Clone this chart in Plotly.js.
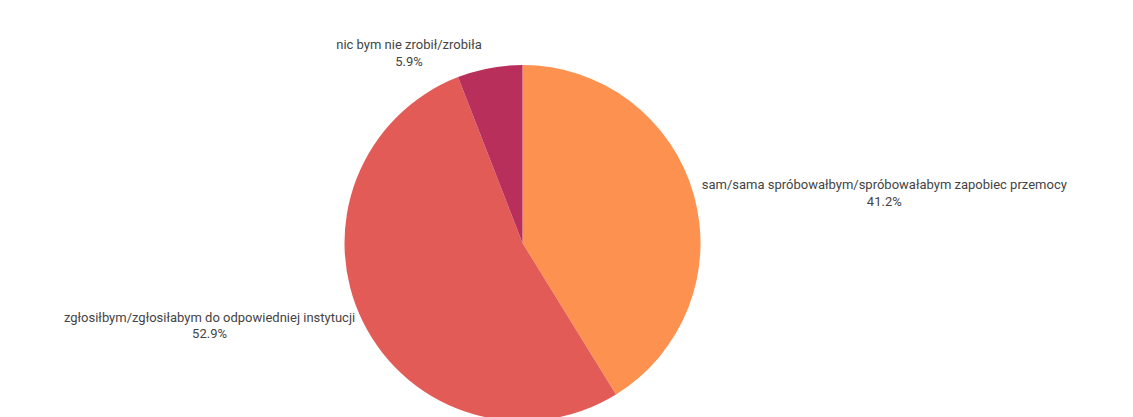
<!DOCTYPE html>
<html>
<head>
<meta charset="utf-8">
<script src="https://cdn.plot.ly/plotly-3.0.1.min.js"></script>
<style>html,body{margin:0;padding:0;background:#fff;overflow:hidden;width:1133px;height:417px;}#chart{width:1133px;height:421px;}</style>
</head>
<body>
<div id="chart"></div>
<script>
const labels = [
  "sam/sama spróbowałbym/spróbowałabym zapobiec przemocy",
  "zgłosiłbym/zgłosiłabym do odpowiedniej instytucji",
  "nic bym nie zrobił/zrobiła"
];
const values = [41.2, 52.9, 5.9];
const colors = ["#FD914F", "#E35B56", "#B92F5C"];

Plotly.newPlot("chart", [{
  type: "pie",
  labels: labels,
  values: values,
  sort: false,
  direction: "clockwise",
  rotation: 0,
  marker: {colors: colors, line: {width: 0}},
  textposition: "outside",
  texttemplate: "%{label}<br>%{percent:.1%}",
  textfont: {family: "Roboto, sans-serif", size: 13, color: "#444"},
  hoverinfo: "none",
  automargin: false
}], {
  width: 1133,
  height: 421,
  margin: {l: 0, r: 88, t: 65, b: 0},
  showlegend: false,
  paper_bgcolor: "#fff",
  plot_bgcolor: "#fff"
}, {displayModeBar: false, staticPlot: true});
</script>
</body>
</html>
